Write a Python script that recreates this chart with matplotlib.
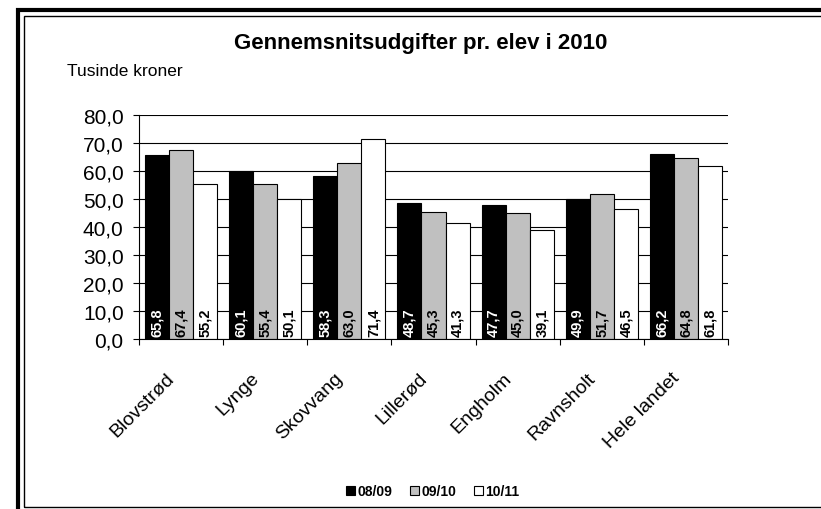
import matplotlib
matplotlib.use("Agg")
import matplotlib.pyplot as plt
from matplotlib.patches import Rectangle
from matplotlib.ticker import FuncFormatter
from matplotlib.transforms import ScaledTranslation
import numpy as np

plt.rcParams['font.family'] = ['Liberation Sans', 'DejaVu Sans']

schools = ['Blovstrød', 'Lynge', 'Skovvang', 'Lillerød', 'Engholm', 'Ravnsholt', 'Hele landet']
years = ['08/09', '09/10', '10/11']
y0809 = [65.8, 60.1, 58.3, 48.7, 47.7, 49.9, 66.2]
y0910 = [67.4, 55.4, 63.0, 45.3, 45.0, 51.7, 64.8]
y1011 = [55.2, 50.1, 71.4, 41.3, 39.1, 46.5, 61.8]
colors = ['#000000', '#c0c0c0', '#ffffff']
label_colors = ['white', 'black', 'black']

fig = plt.figure(figsize=(8.21, 5.10), dpi=100)
W, H = 821, 510

# double frame around the chart (runs off the right/bottom edge like the original)
fig.patches.append(Rectangle((18 / W, 1 - 512 / H), 900 / W, 501 / H, transform=fig.transFigure,
                             fill=False, lw=3.0, edgecolor='black', clip_on=False))
fig.patches.append(Rectangle((23.5 / W, 1 - 507.5 / H), 900 / W, 491 / H, transform=fig.transFigure,
                             fill=False, lw=1.0, edgecolor='black', clip_on=False))

ax = fig.add_axes([139 / W, 1 - 340 / H, (728 - 139) / W, (340 - 116) / H])

x = np.arange(len(schools))
bw = 0.286
for i, (vals, c, lc) in enumerate(zip([y0809, y0910, y1011], colors, label_colors)):
    pos = x + (i - 1) * bw
    ax.bar(pos, vals, width=bw, color=c, edgecolor='black', linewidth=0.8, zorder=2, label=years[i])
    for p, v in zip(pos, vals):
        ax.annotate(f'{v:.1f}'.replace('.', ','), (p, 0), xytext=(0, 2), textcoords='offset points',
                    rotation=90, ha='center', va='bottom', fontsize=10.5, fontweight='bold',
                    color=lc, zorder=3)

ax.set_xlim(-0.5, len(schools) - 0.5)
ax.set_ylim(0, 80)
ax.set_yticks(np.arange(0, 81, 10))
ax.yaxis.set_major_formatter(FuncFormatter(lambda v, _: f'{v:.1f}'.replace('.', ',')))
ax.yaxis.grid(True, color='black', linewidth=0.8, zorder=0)
ax.set_axisbelow(True)

ax.set_xticks(x)
ax.set_xticklabels(schools)
ax.set_xticks(np.arange(-0.5, len(schools), 1), minor=True)
ax.tick_params(axis='x', which='major', length=0, pad=26, labelsize=14)
ax.tick_params(axis='x', which='minor', length=4, width=0.8, direction='out')
ax.tick_params(axis='y', length=4, width=0.8, direction='out', labelsize=15, pad=7)
shift = ScaledTranslation(-0.09, 0.0, fig.dpi_scale_trans)
for lab in ax.get_xticklabels():
    lab.set_rotation(45)
    lab.set_ha('right')
    lab.set_va('center')
    lab.set_rotation_mode('anchor')
    lab.set_transform(lab.get_transform() + shift)

for s in ['top', 'right']:
    ax.spines[s].set_visible(False)
for s in ['left', 'bottom']:
    ax.spines[s].set_linewidth(0.8)

fig.text(420.5 / W, 1 - 43 / H, 'Gennemsnitsudgifter pr. elev i 2010', ha='center', va='center',
         fontsize=16, fontweight='bold')
fig.text(67 / W, 1 - 72 / H, 'Tusinde kroner', ha='left', va='center', fontsize=12.5)

handles = [Rectangle((0, 0), 1, 1, facecolor=c, edgecolor='black', linewidth=0.8) for c in colors]
fig.legend(handles, years, loc='center', bbox_to_anchor=(433 / W, 1 - 492 / H), ncol=3,
           frameon=False, prop={'weight': 'bold', 'size': 10}, handlelength=0.6, handleheight=0.6,
           handletextpad=0.2, columnspacing=1.3)

fig.savefig('out.png', dpi=100)
